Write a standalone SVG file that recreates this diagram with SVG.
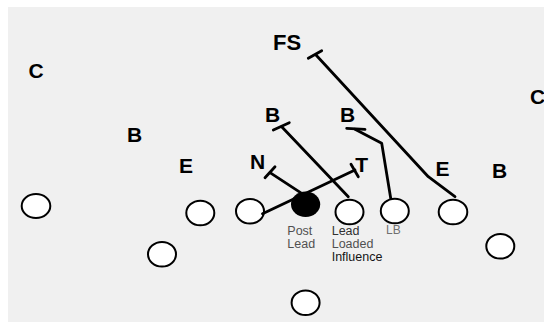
<svg xmlns="http://www.w3.org/2000/svg" width="544" height="322" viewBox="0 0 544 322">
<style>
.lbl{font-family:"Liberation Sans",Arial,sans-serif;font-weight:bold;font-size:21px;fill:#000;text-anchor:middle}
.sm{font-family:"Liberation Sans",Arial,sans-serif;font-size:12.5px}
.pl{fill:#fff;stroke:#000;stroke-width:2}
.ln{fill:none;stroke:#000;stroke-width:2.8;stroke-linecap:round;stroke-linejoin:round}
</style>
<rect x="8" y="7" width="536" height="315" fill="#f0f0f0"/>
<g id="defense">
<g id="c-left"><text class="lbl" x="36" y="78">C</text></g>
<g id="fs"><text class="lbl" x="287" y="50" style="font-size:22px">FS</text></g>
<g id="b-far-left"><text class="lbl" x="134.5" y="141.5">B</text></g>
<g id="e-left"><text class="lbl" x="186" y="173">E</text></g>
<g id="n"><text class="lbl" x="257.5" y="169">N</text></g>
<g id="b-mid-left"><text class="lbl" x="272.5" y="121.7">B</text></g>
<g id="b-mid-right"><text class="lbl" x="347.5" y="121.7">B</text></g>
<g id="t"><text class="lbl" x="361.7" y="171.5">T</text></g>
<g id="e-right"><text class="lbl" x="442.5" y="176">E</text></g>
<g id="b-right"><text class="lbl" x="499.5" y="178">B</text></g>
<g id="c-right"><text class="lbl" x="530" y="104" style="text-anchor:start">C</text></g>
</g>
<g id="offense">
<g id="o1"><ellipse class="pl" cx="36" cy="206" rx="14.3" ry="12"/></g>
<g id="o2"><ellipse class="pl" cx="200.3" cy="213" rx="14" ry="12.3"/></g>
<g id="o3"><ellipse class="pl" cx="250" cy="211.3" rx="14" ry="12.3"/></g>
<g id="center"><ellipse cx="305.6" cy="204.3" rx="14.6" ry="12.8" fill="#000"/></g>
<g id="o5"><ellipse class="pl" cx="349.5" cy="212" rx="14" ry="12.3"/></g>
<g id="o6"><ellipse class="pl" cx="394.8" cy="211" rx="14" ry="12.3"/></g>
<g id="o7"><ellipse class="pl" cx="453" cy="212" rx="14.3" ry="12.3"/></g>
<g id="o8"><ellipse class="pl" cx="162" cy="254.3" rx="14" ry="12.3"/></g>
<g id="o9"><ellipse class="pl" cx="500.3" cy="246.3" rx="14" ry="12.3"/></g>
<g id="o10"><ellipse class="pl" cx="305.6" cy="302.7" rx="14" ry="12.3"/></g>
</g>
<g id="connectors">
<path class="ln" d="M316,55 L428.3,176.7 L455,196.7"/>
<path class="ln" d="M308.3,58.3 L321.7,50.7"/>
<path class="ln" d="M281.7,126.7 L348.3,196.7"/>
<path class="ln" d="M273.3,130 L289.3,122.7"/>
<path class="ln" d="M355,129.3 L381.7,143.3 L390.7,198.3"/>
<path class="ln" d="M346.7,128.3 L365,129.3"/>
<path class="ln" d="M270,172.7 L301.7,193.3"/>
<path class="ln" d="M265,177.7 L275,166.7"/>
<path class="ln" d="M355,170 L262.5,213.7"/>
<path class="ln" d="M351,164.3 L358.3,176.7"/>
</g>
<g id="labels">
<text class="sm" x="287.3" y="235" fill="#505050">Post</text>
<text class="sm" x="287.3" y="248.3" fill="#505050">Lead</text>
<text class="sm" x="331.7" y="235" fill="#303030">Lead</text>
<text class="sm" x="331.7" y="248.3" fill="#505050">Loaded</text>
<text class="sm" x="331.7" y="261" fill="#151515">Influence</text>
<text class="sm" x="386" y="234" fill="#707070" style="font-size:12px">LB</text>
</g>
</svg>
